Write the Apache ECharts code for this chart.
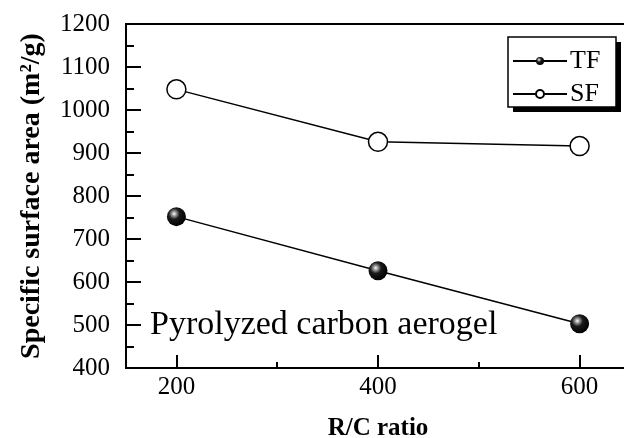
<!DOCTYPE html>
<html>
<head>
<meta charset="utf-8">
<script src="https://cdn.jsdelivr.net/npm/echarts@6/dist/echarts.min.js"></script>
<style>
  html, body { margin: 0; padding: 0; background: #fff; }
  #chart { width: 624px; height: 438px; }
</style>
</head>
<body>
<div id="chart"></div>
<script>
const ratios = [200, 400, 600]
const tfValues = [752, 626, 503]
const sfValues = [1048, 926, 916]
const xMajorTicks = [200, 400, 600]
const xMinorTicks = [300, 500]

const serif = '"Liberation Serif", "Times New Roman", serif'

const chart = echarts.init(document.getElementById('chart'))

// shaded black ball used for the TF markers
const sphere = {
  type: 'radial', x: 0.38, y: 0.35, r: 0.65,
  colorStops: [
    { offset: 0, color: '#ffffff' },
    { offset: 0.18, color: '#9a9a9a' },
    { offset: 0.45, color: '#1a1a1a' },
    { offset: 1, color: '#000000' }
  ]
}

const option = {
  animation: false,
  backgroundColor: '#fff',
  grid: {
    left: 126, top: 24, width: 504, height: 344,
    outerBoundsMode: 'none',
    show: true, borderColor: '#000', borderWidth: 2, backgroundColor: 'transparent'
  },
  xAxis: [
    {
      type: 'value', min: 150, max: 650,
      name: 'R/C ratio', nameLocation: 'middle', nameGap: 48,
      nameTextStyle: { fontFamily: serif, fontWeight: 'bold', fontSize: 25, color: '#000' },
      axisLine: { lineStyle: { color: '#000', width: 2 } },
      axisTick: { inside: true, length: 13, customValues: xMajorTicks, lineStyle: { color: '#000', width: 2 } },
      axisLabel: { customValues: xMajorTicks, margin: 7, fontFamily: serif, fontSize: 25, color: '#000', formatter: v => String(v) },
      splitLine: { show: false }
    },
    {
      // minor ticks only
      type: 'value', min: 150, max: 650, gridIndex: 0, position: 'bottom',
      axisLine: { show: false },
      axisTick: { inside: true, length: 6, customValues: xMinorTicks, lineStyle: { color: '#000', width: 2 } },
      axisLabel: { show: false },
      splitLine: { show: false }
    }
  ],
  yAxis: {
    type: 'value', min: 400, max: 1200, interval: 100,
    name: 'Specific surface area (m²/g)', nameLocation: 'middle', nameGap: 80,
    nameTextStyle: { fontFamily: serif, fontWeight: 'bold', fontSize: 28, color: '#000' },
    axisLine: { show: true, lineStyle: { color: '#000', width: 2 } },
    axisTick: { show: true, inside: true, length: 15, lineStyle: { color: '#000', width: 2 } },
    minorTick: { show: true, splitNumber: 2, length: 8, lineStyle: { color: '#000', width: 2 } },
    axisLabel: { margin: 16, fontFamily: serif, fontSize: 25, color: '#000', formatter: v => String(v) },
    splitLine: { show: false }
  },
  legend: {
    left: 510, top: 46, orient: 'vertical', z: 10,
    padding: [2, 4, 2, 2], itemGap: 7,
    itemWidth: 54, itemHeight: 10,
    backgroundColor: 'transparent', borderWidth: 0,
    textStyle: { fontFamily: serif, fontSize: 26, color: '#000', padding: [0, 0, 0, -2] },
    data: ['TF', 'SF']
  },
  graphic: [
    {
      type: 'rect', z: 6,
      shape: { x: 508, y: 37, width: 108, height: 70 },
      style: { fill: '#fff', shadowColor: '#000', shadowBlur: 0, shadowOffsetX: 5, shadowOffsetY: 5 }
    },
    {
      type: 'rect', z: 7,
      shape: { x: 508, y: 37, width: 108, height: 70 },
      style: { fill: null, stroke: '#000', lineWidth: 1.5 }
    },
    {
      type: 'text', left: 150, top: 308,
      style: { text: 'Pyrolyzed carbon aerogel', font: '34px ' + serif, fill: '#000' }
    }
  ],
  series: [
    {
      name: 'TF', type: 'line',
      data: ratios.map((r, i) => [r, tfValues[i]]),
      symbol: 'circle', symbolSize: 19,
      lineStyle: { color: '#000', width: 1.5 },
      itemStyle: { color: sphere, borderColor: '#000', borderWidth: 0 }
    },
    {
      name: 'SF', type: 'line',
      data: ratios.map((r, i) => [r, sfValues[i]]),
      symbol: 'circle', symbolSize: 19,
      lineStyle: { color: '#000', width: 1.5 },
      itemStyle: { color: '#fff', borderColor: '#000', borderWidth: 1.5 }
    }
  ]
}

chart.setOption(option)
</script>
</body>
</html>
